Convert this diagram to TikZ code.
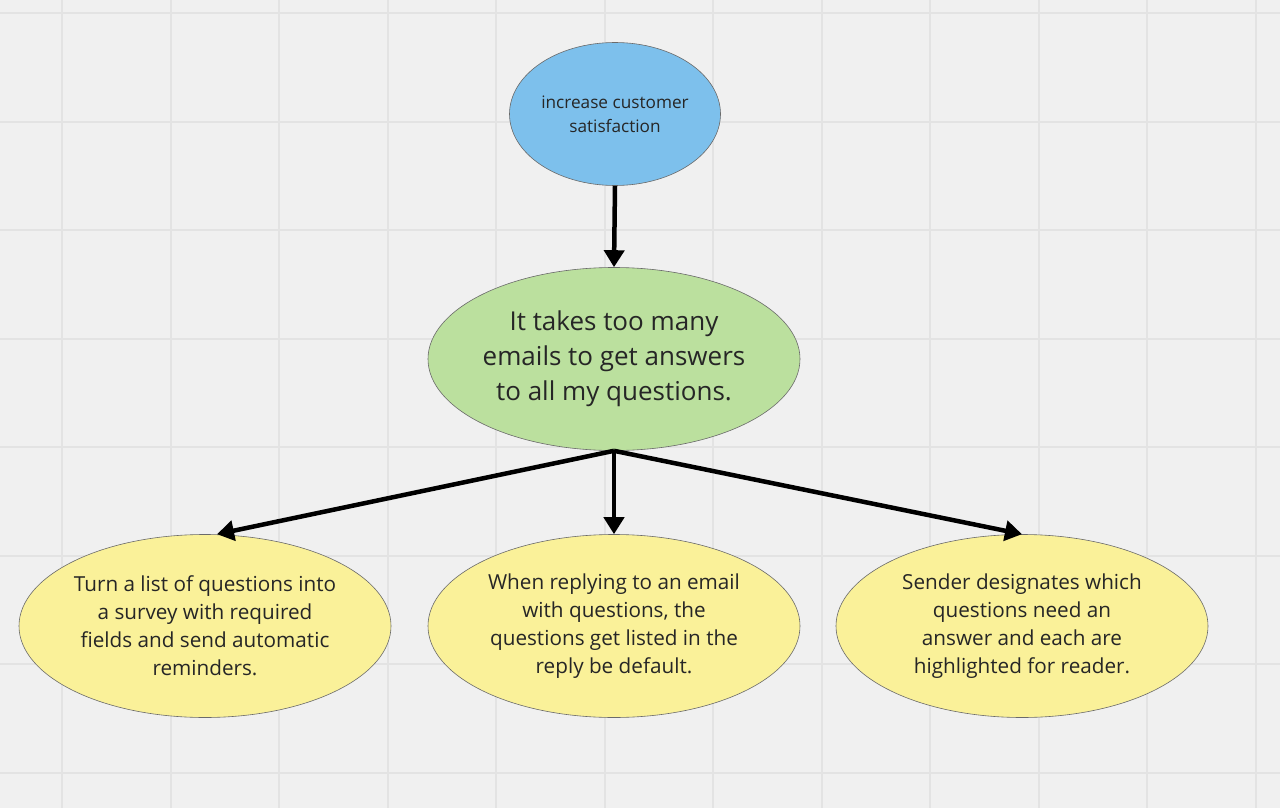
\documentclass[tikz,border=0pt]{standalone}
\usepackage{fontspec}
\setmainfont{Open Sans}
\usetikzlibrary{arrows.meta,shapes.geometric}

\definecolor{bggray}{HTML}{F0F0F0}
\definecolor{gridgray}{HTML}{E3E3E3}
\definecolor{goalblue}{HTML}{7DC0EC}
\definecolor{probgreen}{HTML}{BBE09E}
\definecolor{ideayellow}{HTML}{FAF199}
\definecolor{rimgray}{HTML}{6A6A6A}

\tikzset{
  bubble/.style={ellipse, draw=rimgray, line width=0.6pt, inner sep=0pt,
    align=center, text=black!85},
  goalbubble/.style={bubble, fill=goalblue, minimum width=211, minimum height=143,
    font=\fontsize{17.2}{24}\selectfont},
  probbubble/.style={bubble, fill=probgreen, minimum width=372, minimum height=183,
    font=\fontsize{26}{35}\selectfont},
  ideabubble/.style={bubble, fill=ideayellow, minimum width=372, minimum height=183,
    font=\fontsize{20.7}{28}\selectfont},
  flow/.style={line width=4.5pt, -{Triangle[length=17pt,width=20pt]}}
}

\begin{document}
\begin{tikzpicture}[x=1pt,y=-1pt]
  % canvas and grid
  \fill[bggray] (0,0) rectangle (1280,808);
  \useasboundingbox (0,0) rectangle (1280,808);
  \foreach \i in {0,...,11}
    \draw[gridgray, line width=2pt] (62+108.5*\i,0) -- (62+108.5*\i,808);
  \foreach \j in {0,...,7}
    \draw[gridgray, line width=2pt] (0,13+108.5*\j) -- (1280,13+108.5*\j);

  \node[goalbubble] at (615,114) (goal) {increase customer\\satisfaction};
  \node[probbubble] at (614,359) (prob) {It takes too many\\emails to get answers\\to all my questions.};
  \node[ideabubble] at (205,626) (survey) {Turn a list of questions into\\a survey with required\\fields and send automatic\\reminders.};
  \node[ideabubble] at (614,626) (reply) {When replying to an email\\with questions, the\\questions get listed in the\\reply be default.};
  \node[ideabubble] at (1022,626) (flag) {Sender designates which\\questions need an\\answer and each are\\highlighted for reader.};

  \draw[flow] (goal.south) -- (prob.north);
  \draw[flow] (prob.south) -- ([xshift=12pt]survey.north);
  \draw[flow] (prob.south) -- (reply.north);
  \draw[flow] (prob.south) -- (flag.north);
\end{tikzpicture}
\end{document}
